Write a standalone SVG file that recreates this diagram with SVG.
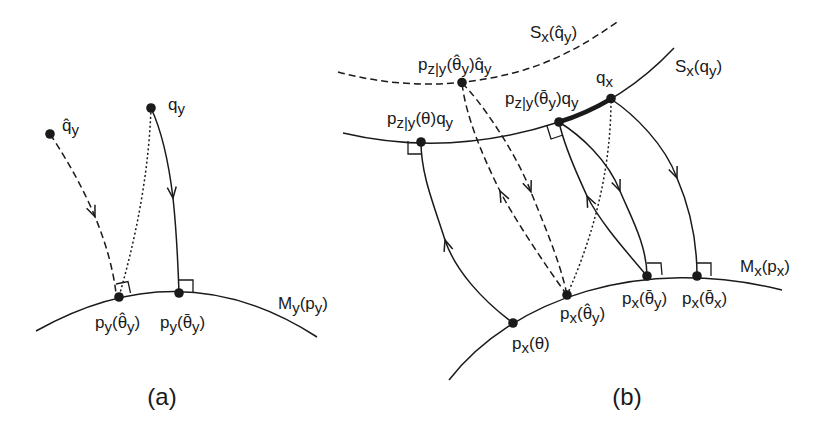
<svg xmlns="http://www.w3.org/2000/svg" width="817" height="422" viewBox="0 0 817 422">
<defs>
<style>
.ln{fill:none;stroke:#1a1a1a;stroke-width:1.5}
.da{stroke-dasharray:7 4}
.do{stroke-dasharray:2 2.5}
.thick{fill:none;stroke:#1a1a1a;stroke-width:4.5}
.ra{fill:none;stroke:#1a1a1a;stroke-width:1.3}
.dot{fill:#1a1a1a}
text{font-family:"Liberation Sans",Arial,sans-serif;font-size:17px;fill:#1a1a1a}
.s{font-size:15px}
.acc{text-anchor:middle}
.cap{font-size:24px}
</style>
<marker id="ah" viewBox="-13 -7 15 14" markerWidth="15" markerHeight="14" refX="0" refY="0" orient="auto" markerUnits="userSpaceOnUse">
<path d="M-11,-4.5 L0,0 L-11,4.5" fill="none" stroke="#1a1a1a" stroke-width="1.5"/>
</marker>
</defs>

<g id="curves">
<path id="My" class="ln" d="M36,331 Q181.5,249 317,337"/>
<path id="Mx" class="ln" d="M449,380 C513,298 642,255 782,290"/>
<path id="Sxqhat" class="ln da" d="M338,72 Q431,97 524,70 Q570,56 617,22"/>
<path id="Sxq" class="ln" d="M343,133 Q449.5,158 559,122 Q623,102 674,48"/>
<path class="thick" d="M559,122 Q585.9,113.6 610.4,99.2"/>
</g>

<g id="connectors">
<path class="ln da" d="M50,134 Q78.5,177 95,216.75 Q111.5,256.5 116,293" marker-mid="url(#ah)"/>
<path class="ln do" d="M151,108 Q148,195 120,293"/>
<path class="ln" d="M151,108 Q166,140 173,198 Q177,235 179,293" marker-mid="url(#ah)"/>
<path class="ln" d="M513,323 C482,300 455,270 445,240 C434,205 421,175 421,142" marker-mid="url(#ah)"/>
<path class="ln da" d="M567,295 C545,265 512,215 500,191 C488,167 466,120 462,83" marker-mid="url(#ah)"/>
<path class="ln da" d="M462,83 C478,98 515,150 531,192 C540,215 560,260 567,295" marker-mid="url(#ah)"/>
<path class="ln do" d="M567,295 Q611,197 611,99"/>
<path class="ln" d="M647,276 C625,250 600,222 587,196 C580,180 565,150 559,122" marker-mid="url(#ah)"/>
<path class="ln" d="M559,122 C580,135 608,160 620,191 C630,215 647,245 647,276" marker-mid="url(#ah)"/>
<path class="ln" d="M611,99 C635,115 665,145 677,178 C690,208 697,240 697,276" marker-mid="url(#ah)"/>
</g>

<g id="right-angles">
<polyline class="ra" points="116,284 128,281.5 130.5,293"/>
<polyline class="ra" points="179,280 193,280 193,292"/>
<polyline class="ra" points="408,141 408,154 421,154"/>
<polyline class="ra" points="547,126 551,139 563,135"/>
<polyline class="ra" points="647,263 661,263 662,275"/>
<polyline class="ra" points="697,263 711,263 711,276"/>
</g>

<g id="n-qhat-y"><circle class="dot" cx="50" cy="134" r="4.8"/><text x="62" y="131">q&#x302;<tspan class="s" dy="4">y</tspan></text></g>
<g id="n-q-y"><circle class="dot" cx="151" cy="108" r="4.8"/><text x="168" y="110">q<tspan class="s" dy="4">y</tspan></text></g>
<g id="n-py-thetahat"><circle class="dot" cx="119" cy="297" r="4.8"/><text x="95" y="328">p<tspan class="s" dy="4">y</tspan><tspan dy="-4">(&#x3B8;</tspan><tspan class="acc" x="122.3" dy="-3.5">&#x2C6;</tspan><tspan class="s" x="127.06" dy="7.5">y</tspan><tspan dy="-4">)</tspan></text></g>
<g id="n-py-thetabar"><circle class="dot" cx="179" cy="293" r="4.8"/><text x="160" y="328">p<tspan class="s" dy="4">y</tspan><tspan dy="-4">(&#x3B8;</tspan><tspan class="acc" x="187.3" dy="-3.5">&#x2C9;</tspan><tspan class="s" x="192.06" dy="7.5">y</tspan><tspan dy="-4">)</tspan></text></g>
<g id="l-My"><text x="278" y="309">M<tspan class="s" dy="4">y</tspan><tspan dy="-4">(p</tspan><tspan class="s" dy="4">y</tspan><tspan dy="-4">)</tspan></text></g>
<g id="l-a"><text class="cap" x="162" y="405" text-anchor="middle">(a)</text></g>

<g id="l-Sxqhat"><text x="530" y="38">S<tspan class="s" dy="4">x</tspan><tspan dy="-4">(q&#x302;</tspan><tspan class="s" dy="4">y</tspan><tspan dy="-4">)</tspan></text></g>
<g id="l-Sxq"><text x="675" y="72">S<tspan class="s" dy="4">x</tspan><tspan dy="-4">(q</tspan><tspan class="s" dy="4">y</tspan><tspan dy="-4">)</tspan></text></g>
<g id="n-pz-thetahat"><circle class="dot" cx="462" cy="82.5" r="4.8"/><text x="418" y="70">p<tspan class="s" dy="4">z|y</tspan><tspan dy="-4">(&#x3B8;</tspan><tspan class="acc" x="456.74" dy="-3.5">&#x2C6;</tspan><tspan class="s" x="461.46" dy="7.5">y</tspan><tspan dy="-4">)q&#x302;</tspan><tspan class="s" dy="4">y</tspan></text></g>
<g id="n-pz-theta"><circle class="dot" cx="421" cy="142" r="4.8"/><text x="387" y="124">p<tspan class="s" dy="4">z|y</tspan><tspan dy="-4">(&#x3B8;)q</tspan><tspan class="s" dy="4">y</tspan></text></g>
<g id="n-pz-thetabar"><circle class="dot" cx="559" cy="122" r="4.8"/><text x="505" y="104">p<tspan class="s" dy="4">z|y</tspan><tspan dy="-4">(&#x3B8;</tspan><tspan class="acc" x="543.74" dy="-3.5">&#x2C9;</tspan><tspan class="s" x="548.46" dy="7.5">y</tspan><tspan dy="-4">)q</tspan><tspan class="s" dy="4">y</tspan></text></g>
<g id="n-qx"><circle class="dot" cx="611" cy="98.5" r="4.8"/><text x="596" y="83">q<tspan class="s" dy="4">x</tspan></text></g>
<g id="n-px-theta"><circle class="dot" cx="513" cy="323" r="4.8"/><text x="512" y="349">p<tspan class="s" dy="4">x</tspan><tspan dy="-4">(&#x3B8;)</tspan></text></g>
<g id="n-px-thetahat"><circle class="dot" cx="567" cy="295" r="4.8"/><text x="560" y="319">p<tspan class="s" dy="4">x</tspan><tspan dy="-4">(&#x3B8;</tspan><tspan class="acc" x="587.3" dy="-3.5">&#x2C6;</tspan><tspan class="s" x="592.06" dy="7.5">y</tspan><tspan dy="-4">)</tspan></text></g>
<g id="n-px-thetabar-y"><circle class="dot" cx="647" cy="276" r="4.8"/><text x="622" y="304">p<tspan class="s" dy="4">x</tspan><tspan dy="-4">(&#x3B8;</tspan><tspan class="acc" x="649.3" dy="-3.5">&#x2C9;</tspan><tspan class="s" x="654.06" dy="7.5">y</tspan><tspan dy="-4">)</tspan></text></g>
<g id="n-px-thetabar-x"><circle class="dot" cx="697" cy="276" r="4.8"/><text x="682" y="304">p<tspan class="s" dy="4">x</tspan><tspan dy="-4">(&#x3B8;</tspan><tspan class="acc" x="709.3" dy="-3.5">&#x2C9;</tspan><tspan class="s" x="714.06" dy="7.5">x</tspan><tspan dy="-4">)</tspan></text></g>
<g id="l-Mx"><text x="740" y="272">M<tspan class="s" dy="4">x</tspan><tspan dy="-4">(p</tspan><tspan class="s" dy="4">x</tspan><tspan dy="-4">)</tspan></text></g>
<g id="l-b"><text class="cap" x="627" y="405" text-anchor="middle">(b)</text></g>
</svg>
